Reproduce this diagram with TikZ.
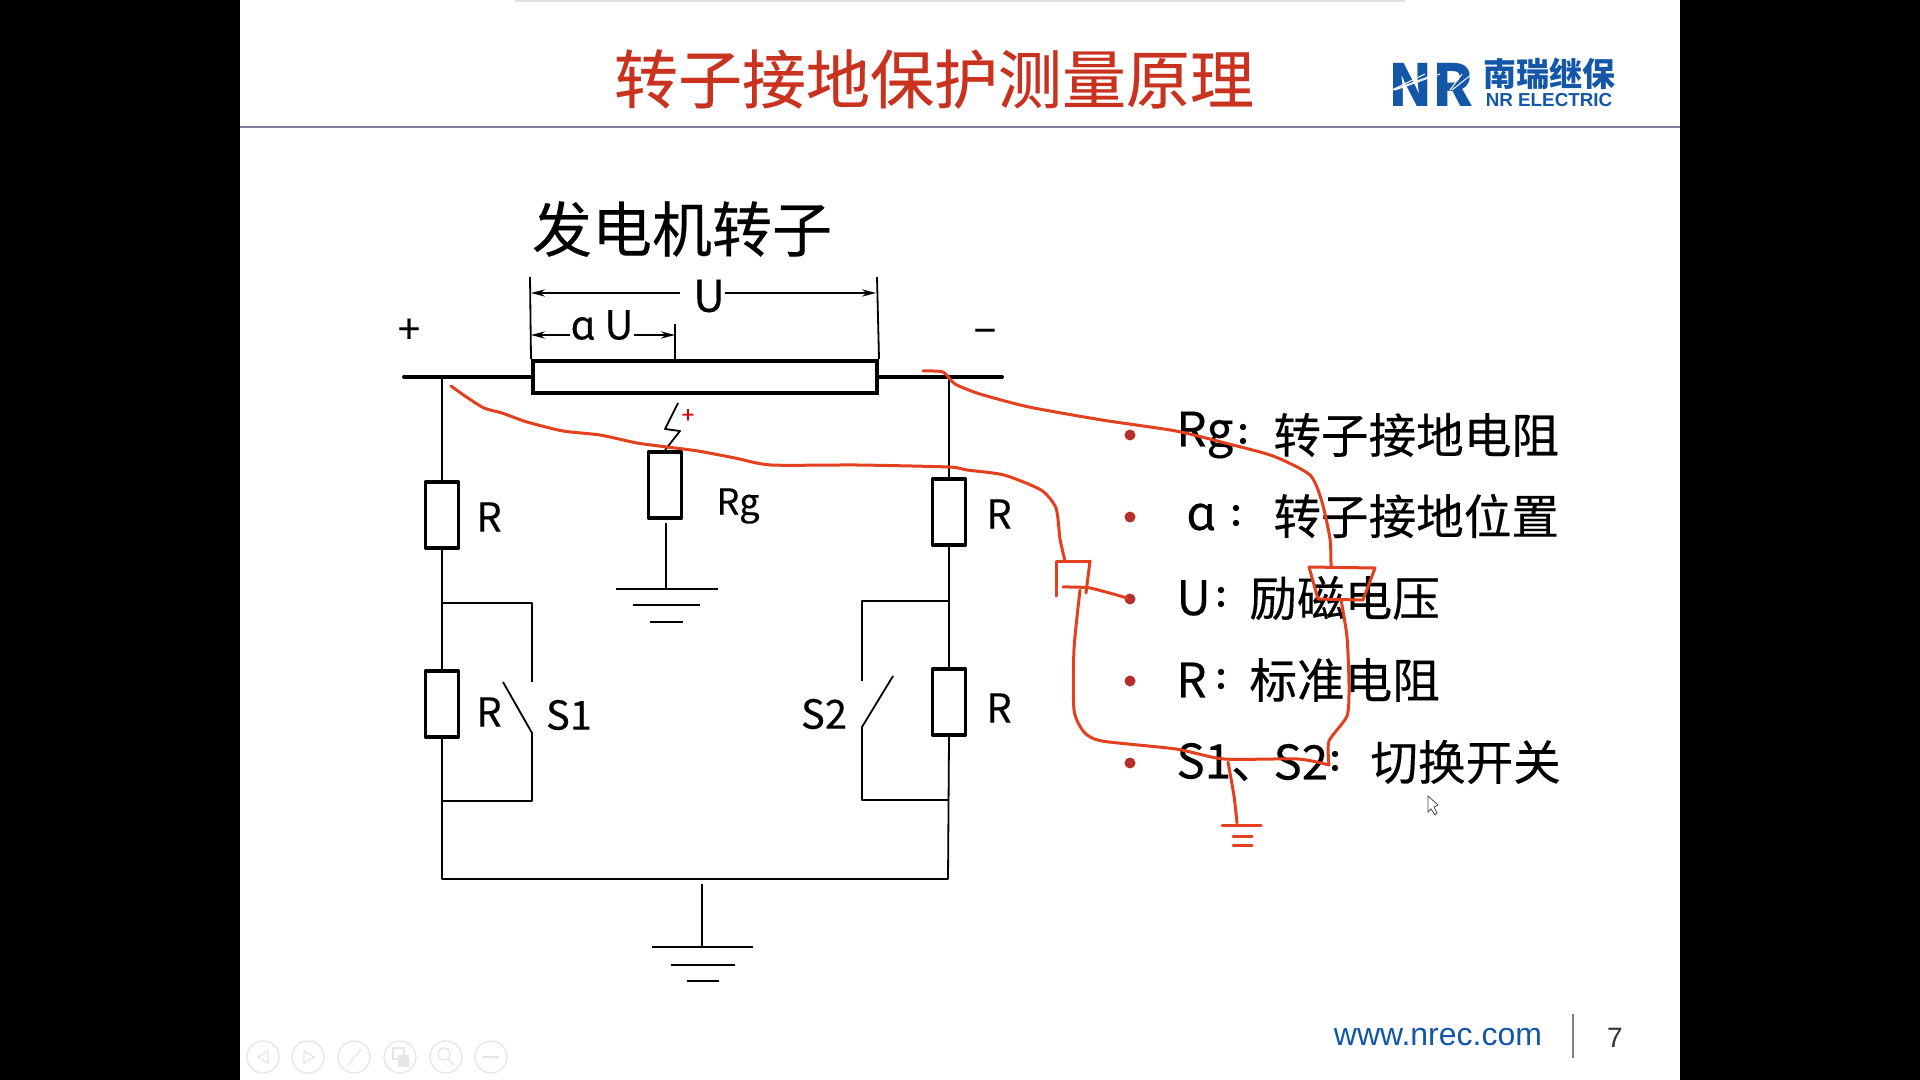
\documentclass[tikz,border=0pt]{standalone}
\usepackage{fontspec}
\setmainfont[FakeBold=0.3]{Noto Sans CJK SC}
\newfontfamily\plainfont{Noto Sans CJK SC}
\newfontfamily\webfont{Liberation Sans}
\usetikzlibrary{arrows.meta}
\definecolor{inkred}{HTML}{E2401F}
\definecolor{titlered}{HTML}{C9321F}
\definecolor{nrblue}{HTML}{1457A8}
\definecolor{bulletred}{HTML}{B5302A}
\definecolor{ruleblue}{HTML}{7F7F9C}
\tikzset{
 wire/.style={line width=0.9pt,black,line join=round},
 bus/.style={line width=2pt,black,line cap=round},
 res/.style={draw=black,line width=1.9pt,line join=round,minimum width=16.5pt,minimum height=33pt,inner sep=0,fill=white},
 rotorbox/.style={draw=black,line width=2pt,minimum width=172pt,minimum height=16pt,inner sep=0},
 lbl/.style={inner sep=0,font=\fontsize{20}{20}\selectfont},
 lsmall/.style={inner sep=0,font=\fontsize{18}{18}\selectfont},
 legend/.style={inner sep=0,anchor=west,font=\fontsize{23.8}{24}\selectfont},
 colon/.style={circle,fill=black,inner sep=0,minimum size=3.2pt},
 dot/.style={circle,fill=bulletred,inner sep=0,minimum size=5.5pt},
 ink/.style={draw=inkred,line width=1.5pt,line cap=round,line join=round},
 dimarrow/.style={line width=0.9pt,-{Stealth[length=7pt,width=3.6pt]}},
 toolicon/.style={black!10,line width=0.6pt},
}
\begin{document}
\begin{tikzpicture}[x=0.5pt,y=-0.5pt]
\useasboundingbox (0,0) rectangle (1920,1080);
\fill[black] (0,0) rectangle (1920,1080);
\fill[white] (240,0) rectangle (1680,1080);
\fill[black!12] (515,0) rectangle (1405,2);
% header
\node[inner sep=0,text=titlered,font=\fontsize{32}{33}\selectfont] (title) at (934,79) {转子接地保护测量原理};
\coordinate (ruleL) at (240,127); \coordinate (ruleR) at (1680,127);
\draw[ruleblue,line width=1.4pt] (ruleL) -- (ruleR);
% logo
\node[inner sep=0,text=nrblue,font=\plainfont\bfseries\fontsize{29}{29}\selectfont] (logoNR) at (1431,85) {NR};
\foreach \a/\b in {1395/1440,1393/1436,1392/1425,1450/1462,1452/1472}{
  \draw[white,line width=0.5pt] (\a,90) -- (\b,74);
}
\node[inner sep=0,text=nrblue,font=\plainfont\bfseries\fontsize{16.5}{17}\selectfont] (logoCN) at (1549,74) {南瑞继保};
\node[inner sep=0,text=nrblue,font=\webfont\bfseries\fontsize{9.4}{10}\selectfont] (logoEN) at (1549,100) {NR ELECTRIC};
% footer
\node[inner sep=0,text=nrblue,font=\webfont\fontsize{16}{16}\selectfont] (web) at (1438,1037) {www.nrec.com};
\coordinate (sepT) at (1573,1014); \coordinate (sepB) at (1573,1058);
\draw[gray,line width=0.7pt] (sepT) -- (sepB);
\node[inner sep=0,text=black!80,font=\webfont\fontsize{14}{14}\selectfont] (page) at (1615,1038) {7};
% rotor
\node[lbl,font=\fontsize{30}{30}\selectfont] (rotorT) at (682,229) {发电机转子};
\node[rotorbox] (rotor) at (705,377) {};
\coordinate (busL) at (404,377); \coordinate (busR) at (1002,377);
\draw[bus] (busL) -- (rotor.west);
\draw[bus] (rotor.east) -- (busR);
\node[lbl] (plus) at (409,331) {+};
\node[lbl] (minus) at (985,337) {−};
% dimensions
\coordinate (e1t) at (530,277); \coordinate (e2t) at (877,277); \coordinate (e3t) at (675,324);
\coordinate (e3b) at (675,361);
\draw[wire] (e1t) -- (rotor.north west);
\draw[wire] (e2t) -- (rotor.north east);
\draw[wire] (e3t) -- (e3b);
\node[lbl,font=\fontsize{22}{22}\selectfont] (U) at (709,296) {U};
\node[lbl] (aU) at (602,325) {ɑ U};
\coordinate (u1) at (680,293); \coordinate (u2) at (725,293);
\coordinate (d1) at (531,293); \coordinate (d2) at (876,293);
\coordinate (v1) at (570,335); \coordinate (v2) at (634,335);
\coordinate (d3) at (531,335); \coordinate (d4) at (675,335);
\draw[dimarrow] (u1) -- (d1);
\draw[dimarrow] (u2) -- (d2);
\draw[dimarrow] (v1) -- (d3);
\draw[dimarrow] (v2) -- (d4);
% resistors
\node[res] (R1) at (442,515) {};
\node[res] (R2) at (442,704) {};
\node[res] (Rg) at (665,485) {};
\node[res] (R3) at (949,512) {};
\node[res] (R4) at (949,702) {};
\node[lbl] (lR1) at (489,517) {R};
\node[lbl] (lR2) at (489,712) {R};
\node[lbl] (lR3) at (999,514) {R};
\node[lbl] (lR4) at (999,708) {R};
\node[lsmall] (lRg) at (738,506) {Rg};
\node[lbl] (lS1) at (569,715) {S1};
\node[lbl] (lS2) at (824,714) {S2};
% main circuit
\coordinate (jL) at (442,377); \coordinate (jR) at (949,377);
\coordinate (bl) at (442,879); \coordinate (br) at (948,879);
\draw[wire] (jL) -- (R1.north);
\draw[wire] (R1.south) -- (R2.north);
\draw[wire] (R2.south) -- (bl) -- (br) -- (R4.south);
\draw[wire] (R4.north) -- (R3.south);
\draw[wire] (R3.north) -- (jR);
% left switch
\coordinate (a1) at (442,603); \coordinate (a2) at (532,603); \coordinate (a3) at (532,682);
\coordinate (a4) at (532,733); \coordinate (a5) at (503,682); \coordinate (a6) at (532,801); \coordinate (a7) at (442,801);
\draw[wire] (a1) -- (a2) -- (a3);
\draw[wire] (a5) -- (a4) -- (a6) -- (a7);
% right switch
\coordinate (b1) at (949,601); \coordinate (b2) at (862,601); \coordinate (b3) at (862,681);
\coordinate (b4) at (862,727); \coordinate (b5) at (893,676); \coordinate (b6) at (862,800); \coordinate (b7) at (949,800);
\draw[wire] (b1) -- (b2) -- (b3);
\draw[wire] (b5) -- (b4) -- (b6) -- (b7);
% main ground
\coordinate (g0) at (702,884); \coordinate (g1) at (702,947);
\draw[wire] (g0) -- (g1);
\coordinate (g1l) at (652,947); \coordinate (g1r) at (753,947);
\coordinate (g2l) at (671,965); \coordinate (g2r) at (735,965);
\coordinate (g3l) at (687,981); \coordinate (g3r) at (719,981);
\draw[wire] (g1l) -- (g1r); \draw[wire] (g2l) -- (g2r); \draw[wire] (g3l) -- (g3r);
% Rg ground and spark
\coordinate (h0) at (666,523); \coordinate (h1) at (666,589);
\draw[wire] (h0) -- (h1);
\coordinate (h1l) at (616,589); \coordinate (h1r) at (718,589);
\coordinate (h2l) at (633,605); \coordinate (h2r) at (700,605);
\coordinate (h3l) at (650,622); \coordinate (h3r) at (683,622);
\draw[wire] (h1l) -- (h1r); \draw[wire] (h2l) -- (h2r); \draw[wire] (h3l) -- (h3r);
\coordinate (s1) at (678,403); \coordinate (s2) at (665,429); \coordinate (s3) at (680,431);
\draw[wire] (s1) -- (s2) -- (s3) -- (Rg.north);
\node[inner sep=0,text=red!80!black,font=\fontsize{11}{11}\selectfont] (sp) at (688,416) {+};
% legend
\node[legend] (t1) at (1176,435) {Rg};
\node[legend] (c1) at (1273,435) {转子接地电阻};
\node[colon] at (1243,427) {}; \node[colon] at (1243,441) {};
\node[legend] (t2) at (1186,517) {ɑ};
\node[legend] (c2) at (1273,516) {转子接地位置};
\node[colon] at (1236,508) {}; \node[colon] at (1236,523) {};
\node[legend] (t3) at (1176,598) {U};
\node[legend] (c3) at (1249,598) {励磁电压};
\node[colon] at (1221,590) {}; \node[colon] at (1221,604) {};
\node[legend] (t4) at (1176,680) {R};
\node[legend] (c4) at (1249,680) {标准电阻};
\node[colon] at (1221,672) {}; \node[colon] at (1221,686) {};
\node[legend] (t5) at (1176,762) {S1、};
\node[legend] (t6) at (1273,762) {S2};
\node[legend] (c5) at (1370,762) {切换开关};
\node[colon] at (1335,754) {}; \node[colon] at (1335,768) {};
\foreach \y in {435,517,599,681,763}{ \node[dot] at (1130,\y) {}; }
% ink
\draw[ink] plot[smooth,tension=0.4] coordinates {(923,371)(943,372)(955,384)(980,394)(1029,407)(1102,420)(1176,431)(1225,443)(1273,456)(1310,475)(1322,502)(1330,539)(1331,566)};
\draw[ink] (1309,567) -- (1375,568) -- (1363,600) -- (1318,599) -- cycle;
\draw[ink] plot[smooth,tension=0.4] coordinates {(1341,600)(1347,637)(1349,686)(1347,716)(1329,741)(1329,765)};
\draw[ink] plot[smooth,tension=0.4] coordinates {(1329,765)(1298,759)(1224,759)(1176,749)(1102,741)(1084,732)(1074,710)(1074,649)(1080,590)};
\draw[ink] (1090,561) -- (1056,561) -- (1056,596);
\draw[ink] (1090,561) -- (1086,593);
\draw[ink] plot[smooth,tension=0.4] coordinates {(1063,587)(1090,588)(1127,598)};
\draw[ink] plot[smooth,tension=0.4] coordinates {(1228,762)(1234,796)(1237,823)};
\draw[ink] (1222,825) -- (1261,825);
\draw[ink] (1233,836) -- (1252,836);
\draw[ink] (1233,845) -- (1252,845);
\draw[ink] plot[smooth,tension=0.4] coordinates {(451,386)(465,396)(484,408)(502,413)(527,422)(563,431)(600,435)(637,443)(667,447)(698,451)(735,458)(771,465)(857,465)(949,467)(967,470)(1004,475)(1041,490)(1056,508)(1060,539)(1065,561)};
% cursor
\coordinate (c1p) at (1428,796);\coordinate (c2p) at (1428,812);\coordinate (c3p) at (1438,805);
\draw[black!70,line width=0.4pt,fill=white] (c1p) -- (c2p) -- (1431,809) -- (1435,815) -- (1437,813) -- (1434,807) -- (c3p) -- cycle;
% toolbar
\foreach \x in {263,308,354,400,446,491}{ \draw[toolicon] (\x,1057) circle[radius=16]; }
\draw[toolicon] (268,1051) -- (258,1057) -- (268,1063) -- cycle;
\draw[toolicon] (304,1051) -- (314,1057) -- (304,1063) -- cycle;
\draw[toolicon] (348,1065) -- (361,1049);
\draw[toolicon] (393,1048) rectangle (404,1059);
\draw[toolicon,fill=black!10] (399,1056) rectangle (408,1066);
\draw[toolicon] (444,1054) circle[radius=6];
\draw[toolicon] (448,1059) -- (454,1065);
\draw[toolicon] (483,1057) -- (499,1057);
\end{tikzpicture}
\end{document}
